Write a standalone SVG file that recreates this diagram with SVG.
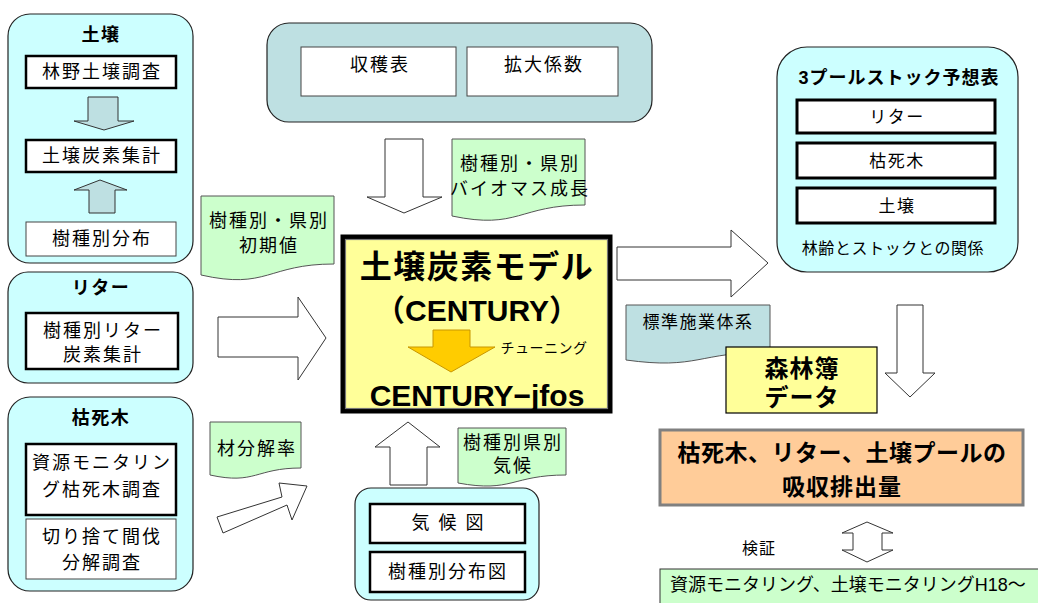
<svg xmlns="http://www.w3.org/2000/svg" width="1038" height="603" viewBox="0 0 1038 603">
<defs>
<style>
text{font-family:"Liberation Sans","Noto Sans CJK JP",sans-serif;fill:#000;dominant-baseline:central;text-anchor:middle}
.grp{fill:#CCFFFF;stroke:#222;stroke-width:1.2}
.teal{fill:#BEE0E2;stroke:#222;stroke-width:1.2}
.bx{fill:#fff;stroke:#000;stroke-width:2.5}
.bt{fill:#fff;stroke:#444;stroke-width:1}
.tag{fill:#CCFFCC;stroke:#555;stroke-width:1}
.arr{fill:#fff;stroke:#333;stroke-width:1}
.tarr{fill:#BEE0E2;stroke:#333;stroke-width:1}
.t18{font-size:18px;letter-spacing:2px}
.tb{font-weight:bold;font-size:18px;letter-spacing:1.5px}
.tg{font-size:18px;letter-spacing:2px}
</style>
</defs>

<g id="soil">
<rect class="grp" x="8" y="14" width="185" height="249" rx="22"/>
<text class="tb" x="101" y="35">土壌</text>
<rect class="bx" x="26" y="56" width="150" height="32"/>
<text class="t18" x="102" y="72">林野土壌調査</text>
<rect class="bx" x="26" y="140" width="150" height="32"/>
<text class="t18" x="102" y="156">土壌炭素集計</text>
<rect class="bt" x="26" y="222" width="150" height="34"/>
<text class="t18" x="102" y="239">樹種別分布</text>
</g>

<g id="litter">
<rect class="grp" x="8" y="272" width="185" height="111" rx="20"/>
<text class="tb" x="101" y="288">リター</text>
<rect class="bx" x="26" y="313" width="152" height="56"/>
<text class="t18" x="103" y="331">樹種別リター</text>
<text class="t18" x="103" y="355">炭素集計</text>
</g>

<g id="deadwood">
<rect class="grp" x="8" y="397" width="185" height="194" rx="22"/>
<text class="tb" x="101" y="418">枯死木</text>
<rect class="bx" x="26" y="444" width="150" height="71"/>
<text class="t18" x="102" y="463">資源モニタリン</text>
<text class="t18" x="102" y="490">グ枯死木調査</text>
<rect class="bt" x="26" y="519" width="150" height="60"/>
<text class="t18" x="102" y="537">切り捨て間伐</text>
<text class="t18" x="102" y="563">分解調査</text>
</g>

<g id="yieldtable">
<rect class="teal" x="267" y="23" width="385" height="99" rx="22"/>
<rect class="bt" x="301" y="47" width="155" height="49"/>
<text class="t18" x="380" y="65">収穫表</text>
<rect class="bt" x="467" y="47" width="151" height="49"/>
<text class="t18" x="544" y="65">拡大係数</text>
</g>

<g id="tag-biomass">
<path class="tag" d="M452,139 H585 V205 C518.5,205 518.5,230 452,216 Z"/>
<text class="tg" x="520" y="164">樹種別・県別</text>
<text class="tg" x="520" y="189">バイオマス成長</text>
</g>

<g id="tag-initial">
<path class="tag" d="M201,196 H334 V264 C267.5,264 267.5,290 201,275 Z"/>
<text class="tg" x="269" y="221">樹種別・県別</text>
<text class="tg" x="269" y="246">初期値</text>
</g>

<g id="tag-decomp">
<path class="tag" d="M210,422 H301 V468 C255.5,468 255.5,485 210,475 Z"/>
<text class="tg" x="257" y="449">材分解率</text>
</g>

<g id="tag-climate">
<path class="tag" d="M458,428 H566 V475 C512,475 512,493 458,483 Z"/>
<text class="tg" x="513" y="443">樹種別県別</text>
<text class="tg" x="513" y="466">気候</text>
</g>

<g id="model">
<rect x="343" y="237" width="267" height="174" fill="#FFFF99" stroke="#000" stroke-width="5"/>
<rect x="345.5" y="239.5" width="262" height="169" fill="none" stroke="#777" stroke-width="1.2"/>
<text x="477" y="267" style="font-size:32px;font-weight:bold;letter-spacing:1.5px">土壌炭素モデル</text>
<text x="477" y="310" style="font-size:30px;font-weight:bold">（CENTURY）</text>
<polygon points="433,330 470,330 470,347 495,347 451,372 408,347 433,347" fill="#FFCC00" stroke="#C89600" stroke-width="1"/>
<text x="544" y="348" style="font-size:14px;letter-spacing:0.5px">チューニング</text>
<text x="477" y="395" style="font-size:30px;font-weight:bold">CENTURY−jfos</text>
</g>

<g id="climate">
<rect class="grp" x="355" y="488" width="184" height="112" rx="16"/>
<rect class="bx" x="370" y="504" width="155" height="39"/>
<text x="452" y="523" style="font-size:18px;letter-spacing:9px">気候図</text>
<rect class="bx" x="370" y="552" width="155" height="40"/>
<text class="t18" x="448" y="572">樹種別分布図</text>
</g>

<g id="pool-table">
<rect class="grp" x="777" y="47" width="241" height="225" rx="30"/>
<text x="899" y="78" style="font-size:18px;font-weight:bold;letter-spacing:1px">3プールストック予想表</text>
<rect x="797" y="100" width="198" height="33" fill="#fff" stroke="#000" stroke-width="3"/>
<text x="897" y="117" style="font-size:17px;letter-spacing:1.5px">リター</text>
<rect x="797" y="143" width="198" height="35" fill="#fff" stroke="#000" stroke-width="3"/>
<text x="897" y="161" style="font-size:17px;letter-spacing:1.5px">枯死木</text>
<rect x="797" y="188" width="198" height="35" fill="#fff" stroke="#000" stroke-width="3"/>
<text x="897" y="206" style="font-size:17px;letter-spacing:1.5px">土壌</text>
<text x="893" y="248" style="font-size:16px;letter-spacing:0.6px">林齢とストックとの関係</text>
</g>

<g id="tag-standard">
<path d="M626,305 H770 V352 C698,352 698,370 626,360 Z" fill="#BEE0E2" stroke="#555" stroke-width="1"/>
<text x="698" y="322" style="font-size:17px;letter-spacing:1.5px">標準施業体系</text>
</g>

<g id="forest-register">
<rect x="726" y="347" width="151" height="66" fill="#FFFF99" stroke="#000" stroke-width="1.2"/>
<text x="802" y="368" style="font-size:24px;font-weight:bold;letter-spacing:1px">森林簿</text>
<text x="802" y="397" style="font-size:24px;font-weight:bold;letter-spacing:1px">データ</text>
</g>

<g id="emission">
<rect x="660" y="430" width="363" height="75" fill="#FFCC99" stroke="#808080" stroke-width="3"/>
<text x="842" y="453" style="font-size:23px;font-weight:bold;letter-spacing:0.5px">枯死木、リター、土壌プールの</text>
<text x="842" y="487" style="font-size:23px;font-weight:bold;letter-spacing:1px">吸収排出量</text>
</g>

<g id="verify">
<text x="759" y="548" style="font-size:16px;letter-spacing:1px">検証</text>
</g>

<g id="monitoring">
<rect x="660" y="569" width="390" height="40" fill="#CCFFCC" stroke="#333" stroke-width="1"/>
<text x="670" y="585" style="font-size:18px;text-anchor:start">資源モニタリング、土壌モニタリングH18〜</text>
</g>

<g id="connectors">
<polygon class="tarr" points="88,97 118,97 118,121 134,121 104,130 74,121 88,121"/>
<polygon class="tarr" points="89,213 115,213 115,190 127,190 100,180 74,190 89,190"/>
<polygon class="arr" points="385,139 423,139 423,197 442,197 404,213 367,197 385,197"/>
<polygon class="arr" points="218,317 298,317 298,297 326,338 298,380 298,357 218,357"/>
<polygon class="arr" points="217,517 282,497 279,483 307,486 292,520 287,505 223,533"/>
<polygon class="arr" points="617,247 731,247 731,230 768,263 731,297 731,280 617,280"/>
<polygon class="arr" points="897,305 923,305 923,373 935,373 910,397 885,373 897,373"/>
<polygon class="arr" points="390,485 427,485 427,447 440,447 408,422 375,447 390,447"/>
<polygon class="arr" points="867,522 893,533 882,533 882,550 893,550 867,562 842,550 853,550 853,533 842,533"/>
</g>
</svg>
